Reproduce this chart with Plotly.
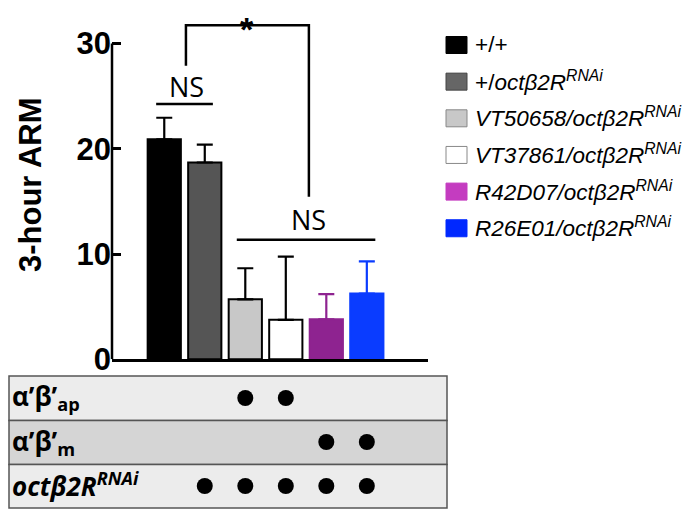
import plotly.graph_objects as go

# ---------------- data ----------------
genotypes = ["+/+", "+/octβ2R-RNAi", "VT50658/octβ2R-RNAi", "VT37861/octβ2R-RNAi",
             "R42D07/octβ2R-RNAi", "R26E01/octβ2R-RNAi"]
legend_labels = [
    "+/+",
    "+/<i>octβ2R</i><sup><i>RNAi</i></sup>",
    "<i>VT50658/octβ2R</i><sup><i>RNAi</i></sup>",
    "<i>VT37861/octβ2R</i><sup><i>RNAi</i></sup>",
    "<i>R42D07/octβ2R</i><sup><i>RNAi</i></sup>",
    "<i>R26E01/octβ2R</i><sup><i>RNAi</i></sup>",
]
arm_mean = [20.9, 18.7, 5.7, 3.75, 3.8, 6.25]
arm_sem = [2.05, 1.7, 2.95, 6.0, 2.4, 3.05]
y_ticks = [0, 10, 20, 30]

row_labels = ["<b>α’β’<sub>ap</sub></b>", "<b>α’β’<sub>m</sub></b>",
              "<b><i>octβ2R</i><sup><i>RNAi</i></sup></b>"]
expr_ap = [0, 0, 1, 1, 0, 0]
expr_m = [0, 0, 0, 0, 1, 1]
expr_rnai = [0, 1, 1, 1, 1, 1]

# ---------------- styles ----------------
bar_colors = ["#000000", "#555555", "#c8c8c8", "#ffffff", "#8e2390", "#0a3cff"]
bar_lines = ["#000000", "#000000", "#000000", "#000000", "#8e2390", "#0a3cff"]
err_colors = ["#000000", "#000000", "#000000", "#000000", "#8e2390", "#0a3cff"]
legend_colors = ["#000000", "#666666", "#c8c8c8", "#ffffff", "#c43cc0", "#0028ff"]
legend_edges = ["#000000", "#444444", "#888888", "#888888", "#c43cc0", "#0028ff"]
row_fills = ["#ececec", "#d5d5d5", "#ececec"]

PAGE_W, PAGE_H = 692, 511
OFF = 8  # default body margin of the page
W, H = PAGE_W - OFF, PAGE_H - OFF
L_PX, R_PX = 112, 428  # page coordinates of plot area


def px_x(px):
    return (px - L_PX) / (R_PX - L_PX)


def px_y(py):
    return 1 - (py - OFF) / H


x_pos = list(range(len(genotypes)))

fig = go.Figure()
for i, g in enumerate(genotypes):
    fig.add_trace(go.Bar(
        x=[x_pos[i]], y=[arm_mean[i]], name=g, width=0.82,
        marker=dict(color=bar_colors[i], line=dict(color=bar_lines[i], width=2)),
        error_y=dict(type="data", symmetric=False, array=[arm_sem[i]], arrayminus=[0],
                     color=err_colors[i], thickness=2.2, width=8),
        showlegend=False, xaxis="x", yaxis="y",
    ))

# table dots
table_rows = [expr_ap, expr_m, expr_rnai]
for r, expr in enumerate(table_rows):
    xs = [x_pos[i] for i, v in enumerate(expr) if v]
    ys = [2.5 - r] * len(xs)
    fig.add_trace(go.Scatter(x=xs, y=ys, mode="markers", xaxis="x", yaxis="y2",
                             marker=dict(color="black", size=16, symbol="circle"),
                             showlegend=False, hoverinfo="skip"))

shapes = []
# y axis line (0..30)
shapes.append(dict(type="line", xref="paper", yref="y", x0=0, x1=0, y0=0, y1=30,
                   line=dict(color="black", width=2.5)))
# brackets
blk = dict(color="black", width=2.5)
shapes.append(dict(type="line", xref="x", yref="y", x0=-0.2, x1=1.2, y0=24.25, y1=24.25, line=blk))
shapes.append(dict(type="path", xref="x", yref="y",
                   path="M 0.535 27.9 L 0.535 31.75 L 3.57 31.75 L 3.57 15.45", line=blk))
shapes.append(dict(type="line", xref="x", yref="y", x0=1.79, x1=5.21, y0=11.35, y1=11.35, line=blk))

# table rows
row_bounds = [376, 420.5, 464.5, 508]
for r in range(3):
    shapes.append(dict(type="rect", xref="paper", yref="paper",
                       x0=px_x(9), x1=px_x(447), y0=px_y(row_bounds[r + 1]), y1=px_y(row_bounds[r]),
                       fillcolor=row_fills[r], line=dict(color="#555555", width=1.5), layer="below"))

# legend squares
annotations = []
for i, lab in enumerate(legend_labels):
    cy = 45 + i * 36.65
    shapes.append(dict(type="rect", xref="paper", yref="paper",
                       x0=px_x(446), x1=px_x(467), y0=px_y(cy + 8.5), y1=px_y(cy - 8.5),
                       fillcolor=legend_colors[i], line=dict(color=legend_edges[i], width=1)))
    annotations.append(dict(xref="paper", yref="paper", x=px_x(473), y=px_y(cy - 1),
                            xanchor="left", yanchor="middle", text=lab, showarrow=False,
                            font=dict(family="Liberation Sans, Arial", size=22.5, color="black")))

for r, lab in enumerate(row_labels):
    cy = (row_bounds[r] + row_bounds[r + 1]) / 2
    annotations.append(dict(xref="paper", yref="paper", x=px_x(10), y=px_y(cy - 1),
                            xanchor="left", yanchor="middle", text=lab, showarrow=False,
                            font=dict(family="Open Sans, Liberation Sans", size=26, color="black")))

ns_font = dict(family="Open Sans, Liberation Sans", size=27, color="black")
annotations.append(dict(xref="x", yref="y", x=0.56, y=25.9, text="NS", showarrow=False,
                        xanchor="center", yanchor="middle", font=ns_font))
annotations.append(dict(xref="x", yref="y", x=3.57, y=13.3, text="NS", showarrow=False,
                        xanchor="center", yanchor="middle", font=ns_font))
annotations.append(dict(xref="x", yref="paper", x=2.03, y=1.0, text="<b>*</b>", showarrow=False,
                        xanchor="center", yanchor="top", yshift=0,
                        font=dict(family="Liberation Sans, Arial", size=34, color="black")))
annotations.append(dict(xref="paper", yref="paper", x=px_x(31), y=px_y(185),
                        text="<b>3-hour ARM</b>", textangle=-90, showarrow=False,
                        xanchor="center", yanchor="middle",
                        font=dict(family="Liberation Sans, Arial", size=31, color="black")))

fig.update_layout(
    width=W, height=H,
    margin=dict(l=L_PX - OFF, r=PAGE_W - R_PX, t=0, b=0, pad=0, autoexpand=False),
    paper_bgcolor="white", plot_bgcolor="rgba(0,0,0,0)",
    barmode="overlay", showlegend=False,
    xaxis=dict(range=[-1.29, 6.51], showline=True, linecolor="black", linewidth=2.5,
               showticklabels=False, ticks="", showgrid=False, zeroline=False, anchor="y",
               automargin=False),
    yaxis=dict(domain=[px_y(359.3), px_y(12)], range=[0, 33], tickvals=y_ticks,
               ticktext=[str(v) for v in y_ticks], automargin=False,
               ticks="inside", ticklen=9, tickwidth=2.5, tickcolor="black",
               showline=False, showgrid=False, zeroline=False, anchor="x",
               tickfont=dict(family="Liberation Sans Narrow, Arial Narrow, Liberation Sans",
                             size=31, color="black", weight="bold")),
    yaxis2=dict(domain=[px_y(508), px_y(376)], range=[0, 3], showticklabels=False,
                ticks="", showline=False, showgrid=False, zeroline=False, anchor="x",
                automargin=False),
    shapes=shapes, annotations=annotations,
)

fig.write_html("out.html")
